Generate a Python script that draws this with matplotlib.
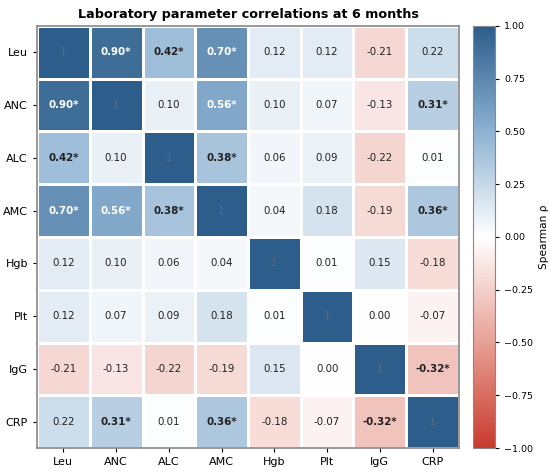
import numpy as np
import matplotlib
matplotlib.use("Agg")
import matplotlib.pyplot as plt
from matplotlib.colors import LinearSegmentedColormap

# ---- data ----
params = ["Leu", "ANC", "ALC", "AMC", "Hgb", "Plt", "IgG", "CRP"]

rho = [
    [1.00, 0.90, 0.42, 0.70, 0.12, 0.12, -0.21, 0.22],
    [0.90, 1.00, 0.10, 0.56, 0.10, 0.07, -0.13, 0.31],
    [0.42, 0.10, 1.00, 0.38, 0.06, 0.09, -0.22, 0.01],
    [0.70, 0.56, 0.38, 1.00, 0.04, 0.18, -0.19, 0.36],
    [0.12, 0.10, 0.06, 0.04, 1.00, 0.01, 0.15, -0.18],
    [0.12, 0.07, 0.09, 0.18, 0.01, 1.00, 0.00, -0.07],
    [-0.21, -0.13, -0.22, -0.19, 0.15, 0.00, 1.00, -0.32],
    [0.22, 0.31, 0.01, 0.36, -0.18, -0.07, -0.32, 1.00],
]

# pairs marked with * (p < 0.05)
significant = [
    ("Leu", "ANC"), ("Leu", "ALC"), ("Leu", "AMC"),
    ("ANC", "AMC"), ("ANC", "CRP"),
    ("ALC", "AMC"), ("AMC", "CRP"),
    ("IgG", "CRP"),
]

# ---- plot ----
cmap = LinearSegmentedColormap.from_list(
    "rdbu_soft",
    [(0.0, "#c93a2e"), (0.25, "#e8a095"), (0.5, "#ffffff"),
     (0.75, "#8db2d2"), (1.0, "#2c5d8b")])

mat = np.array(rho)
n = len(params)
sig = np.zeros((n, n), dtype=bool)
for a, b in significant:
    i, j = params.index(a), params.index(b)
    sig[i, j] = sig[j, i] = True

fig = plt.figure(figsize=(5.5, 4.73), dpi=100)
ax = fig.add_axes([37 / 550, 1 - 448 / 473, 422 / 550, 422 / 473])
cax = fig.add_axes([473 / 550, 1 - 448 / 473, 22 / 550, 422 / 473])

mesh = ax.pcolormesh(mat, cmap=cmap, vmin=-1, vmax=1,
                     edgecolors="white", linewidth=1.0)
ax.set_xlim(0, n)
ax.set_ylim(n, 0)

for i in range(n):
    for j in range(n):
        v = mat[i, j]
        if i == j:
            ax.text(j + 0.5, i + 0.5, "1", ha="center", va="center",
                    fontsize=7.4, color="#777777", alpha=0.6)
            continue
        txt = f"{v:.2f}"
        color = "white" if abs(v) > 0.5 else "#222222"
        if sig[i, j]:
            ax.text(j + 0.5, i + 0.5, txt + "*", ha="center", va="center",
                    fontsize=7.4, fontweight="bold", color=color)
        else:
            ax.text(j + 0.5, i + 0.5, txt, ha="center", va="center",
                    fontsize=7.4, color=color)

ax.set_xticks(np.arange(n) + 0.5)
ax.set_yticks(np.arange(n) + 0.5)
ax.set_xticklabels(params, fontsize=8)
ax.set_yticklabels(params, fontsize=8)
ax.tick_params(length=3, width=0.8)
for s in ax.spines.values():
    s.set_color("#888888")
    s.set_linewidth(1.2)

ax.set_title("Laboratory parameter correlations at 6 months",
             fontsize=9.2, fontweight="bold", pad=6)

cb = fig.colorbar(mesh, cax=cax)
cb.set_ticks([-1, -0.75, -0.5, -0.25, 0, 0.25, 0.5, 0.75, 1])
cb.ax.tick_params(labelsize=6.8, length=3, width=0.8)
cb.set_label("Spearman ρ", fontsize=7.6)
cb.outline.set_edgecolor("#888888")
cb.outline.set_linewidth(0.8)

fig.savefig("out.png", dpi=100)
